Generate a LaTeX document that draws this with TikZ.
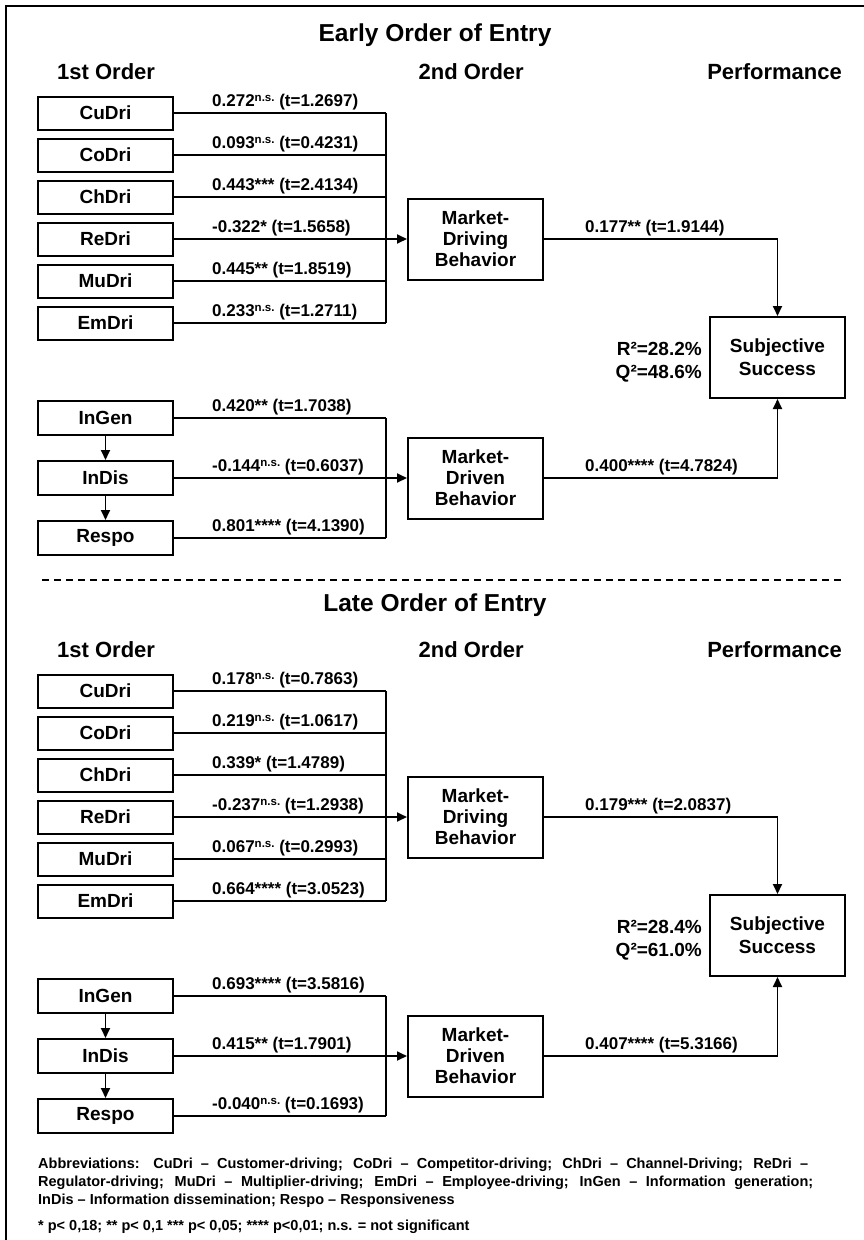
\documentclass[tikz,border=0pt]{standalone}
\usepackage{fontspec}
\setmainfont{Liberation Sans}
\usetikzlibrary{arrows.meta}

% superscript "n.s." used in the path coefficients
\newcommand\nsmark{\raisebox{4.5pt}{\fontsize{11.5}{11.5}\selectfont n.s.}}

\tikzset{
  box/.style={draw, line width=2pt, minimum width=135pt, minimum height=33pt,
    inner sep=0pt, align=center, font=\fontsize{19}{21}\selectfont\bfseries},
  bigbox/.style={box, minimum height=81pt},
  conn/.style={line width=1.8pt},
  arr/.style={conn, -{Triangle[length=10pt,width=9pt]}},
  lbl/.style={anchor=base west, inner sep=0pt, font=\fontsize{17}{17}\selectfont\bfseries},
  rq/.style={anchor=base east, inner sep=0pt, font=\fontsize{19}{19}\selectfont\bfseries},
  head/.style={inner sep=0pt, font=\fontsize{22}{22}\selectfont\bfseries},
  ttl/.style={anchor=base, inner sep=0pt, font=\fontsize{24.5}{25}\selectfont\bfseries},
  foot/.style={anchor=base west, inner sep=0pt, font=\fontsize{14.5}{18}\selectfont\bfseries},
}

\begin{document}
\begin{tikzpicture}[x=1pt, y=-1pt]
\useasboundingbox (0,0) rectangle (864,1240);

% outer frame (top and left edges)
\coordinate (frBL) at (6,1240);
\coordinate (frTL) at (6,6);
\coordinate (frTR) at (864,6);
\draw[line width=1.8pt] (frBL) -- (frTL) -- (frTR);

% ---------------- early order of entry ----------------
\node[ttl] (eTitle) at (435,41) {Early Order of Entry};
\node[head, anchor=base west] (eH1) at (57,79) {1st Order};
\node[head, anchor=base east] (eH2) at (524,79) {2nd Order};
\node[head, anchor=base east] (eH3) at (842,79) {Performance};

\node[box] (eCu) at (105.5,113) {CuDri};
\node[box] (eCo) at (105.5,155) {CoDri};
\node[box] (eCh) at (105.5,197) {ChDri};
\node[box] (eRe) at (105.5,239) {ReDri};
\node[box] (eMu) at (105.5,281) {MuDri};
\node[box] (eEm) at (105.5,323) {EmDri};

\node[box, minimum height=34pt] (eIG) at (105.5,418) {InGen};
\node[box, minimum height=34pt] (eID) at (105.5,478) {InDis};
\node[box, minimum height=34pt] (eRs) at (105.5,538) {Respo};

\node[bigbox] (eMDB) at (475.5,239) {Market-\\Driving\\Behavior};
\node[bigbox] (eMDV) at (475.5,478) {Market-\\Driven\\Behavior};
\node[bigbox, font=\fontsize{19}{23}\selectfont\bfseries] (eSS) at (777.5,357.5) {Subjective\\Success};

\coordinate (eBa) at (386,113);
\coordinate (eBb) at (386,323);
\coordinate (eBc) at (386,418);
\coordinate (eBd) at (386,538);

\foreach \n in {Cu,Co,Ch,Mu,Em} \draw[conn] (e\n.east) -- (e\n.east -| eBa);
\draw[conn] (eBa) -- (eBb);
\draw[arr] (eRe) -- (eMDB);
\draw[conn] (eIG.east) -- (eBc);
\draw[conn] (eRs.east) -- (eBd);
\draw[conn] (eBc) -- (eBd);
\draw[arr] (eID) -- (eMDV);
\draw[arr] (eIG) -- (eID);
\draw[arr] (eID) -- (eRs);
\draw[arr] (eMDB.east) -| (eSS.north);
\draw[arr] (eMDV.east) -| (eSS.south);

\node[lbl] (eLcu) at (212,106) {0.272\nsmark{} (t=1.2697)};
\node[lbl] (eLco) at (212,148) {0.093\nsmark{} (t=0.4231)};
\node[lbl] (eLch) at (212,190) {0.443*** (t=2.4134)};
\node[lbl] (eLre) at (212,232) {-0.322* (t=1.5658)};
\node[lbl] (eLmu) at (212,274) {0.445** (t=1.8519)};
\node[lbl] (eLem) at (212,316) {0.233\nsmark{} (t=1.2711)};
\node[lbl] (eLig) at (212,411) {0.420** (t=1.7038)};
\node[lbl] (eLid) at (212,471) {-0.144\nsmark{} (t=0.6037)};
\node[lbl] (eLrs) at (212,531) {0.801**** (t=4.1390)};
\node[lbl] (eLmdb) at (585,232) {0.177** (t=1.9144)};
\node[lbl] (eLmdv) at (585,471) {0.400**** (t=4.7824)};
\node[rq] (eR2) at (702,355) {R²=28.2\%};
\node[rq] (eQ2) at (702,378) {Q²=48.6\%};

% separator
\coordinate (dashL) at (42,580);
\coordinate (dashR) at (842,580);
\draw[line width=1.4pt, dash pattern=on 7pt off 5pt] (dashL) -- (dashR);

% ---------------- late order of entry ----------------
\begin{scope}[yshift=-578pt]
\node[ttl] (lTitle) at (435,33) {Late Order of Entry};
\node[head, anchor=base west] (lH1) at (57,79) {1st Order};
\node[head, anchor=base east] (lH2) at (524,79) {2nd Order};
\node[head, anchor=base east] (lH3) at (842,79) {Performance};

\node[box] (lCu) at (105.5,113) {CuDri};
\node[box] (lCo) at (105.5,155) {CoDri};
\node[box] (lCh) at (105.5,197) {ChDri};
\node[box] (lRe) at (105.5,239) {ReDri};
\node[box] (lMu) at (105.5,281) {MuDri};
\node[box] (lEm) at (105.5,323) {EmDri};

\node[box, minimum height=34pt] (lIG) at (105.5,418) {InGen};
\node[box, minimum height=34pt] (lID) at (105.5,478) {InDis};
\node[box, minimum height=34pt] (lRs) at (105.5,538) {Respo};

\node[bigbox] (lMDB) at (475.5,239) {Market-\\Driving\\Behavior};
\node[bigbox] (lMDV) at (475.5,478) {Market-\\Driven\\Behavior};
\node[bigbox, font=\fontsize{19}{23}\selectfont\bfseries] (lSS) at (777.5,357.5) {Subjective\\Success};

\coordinate (lBa) at (386,113);
\coordinate (lBb) at (386,323);
\coordinate (lBc) at (386,418);
\coordinate (lBd) at (386,538);

\foreach \n in {Cu,Co,Ch,Mu,Em} \draw[conn] (l\n.east) -- (l\n.east -| lBa);
\draw[conn] (lBa) -- (lBb);
\draw[arr] (lRe) -- (lMDB);
\draw[conn] (lIG.east) -- (lBc);
\draw[conn] (lRs.east) -- (lBd);
\draw[conn] (lBc) -- (lBd);
\draw[arr] (lID) -- (lMDV);
\draw[arr] (lIG) -- (lID);
\draw[arr] (lID) -- (lRs);
\draw[arr] (lMDB.east) -| (lSS.north);
\draw[arr] (lMDV.east) -| (lSS.south);

\node[lbl] (lLcu) at (212,106) {0.178\nsmark{} (t=0.7863)};
\node[lbl] (lLco) at (212,148) {0.219\nsmark{} (t=1.0617)};
\node[lbl] (lLch) at (212,190) {0.339* (t=1.4789)};
\node[lbl] (lLre) at (212,232) {-0.237\nsmark{} (t=1.2938)};
\node[lbl] (lLmu) at (212,274) {0.067\nsmark{} (t=0.2993)};
\node[lbl] (lLem) at (212,316) {0.664**** (t=3.0523)};
\node[lbl] (lLig) at (212,411) {0.693**** (t=3.5816)};
\node[lbl] (lLid) at (212,471) {0.415** (t=1.7901)};
\node[lbl] (lLrs) at (212,531) {-0.040\nsmark{} (t=0.1693)};
\node[lbl] (lLmdb) at (585,232) {0.179*** (t=2.0837)};
\node[lbl] (lLmdv) at (585,471) {0.407**** (t=5.3166)};
\node[rq] (lR2) at (702,355) {R²=28.4\%};
\node[rq] (lQ2) at (702,378) {Q²=61.0\%};
\end{scope}

% ---------------- notes (justified paragraph, last line ragged) ----------------
\node[foot] (abbrA) at (38,1168) {\makebox[770pt][s]{Abbreviations: CuDri – Customer-driving; CoDri – Competitor-driving; ChDri – Channel-Driving; ReDri –}};
\node[foot] (abbrB) at (38,1186) {\makebox[775pt][s]{Regulator-driving; MuDri – Multiplier-driving; EmDri – Employee-driving; InGen – Information generation;}};
\node[foot] (abbrC) at (38,1204) {InDis – Information dissemination; Respo – Responsiveness};
\node[foot] (sig) at (38,1230) {* p< 0,18; ** p< 0,1 *** p< 0,05; **** p<0,01; n.s. = not significant};
\end{tikzpicture}
\end{document}
